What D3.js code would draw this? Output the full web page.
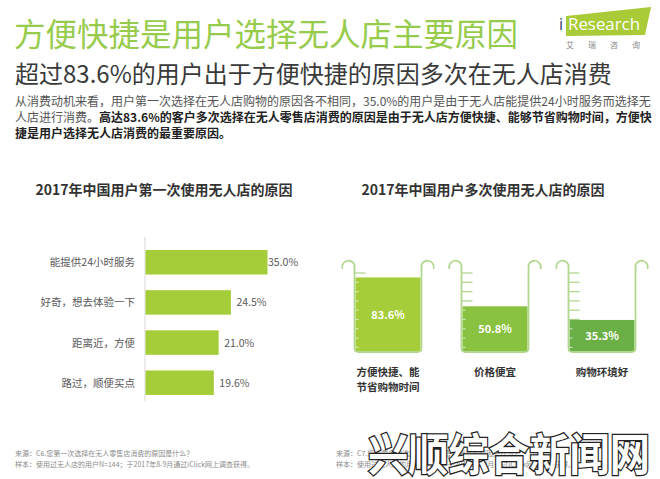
<!DOCTYPE html>
<html>
<head>
<meta charset="utf-8">
<title>方便快捷是用户选择无人店主要原因</title>
<script src="https://d3js.org/d3.v7.min.js"></script>
<style>
  body { margin: 0; background: #fff; }
  text { font-family: "Noto Sans CJK SC", "Noto Sans", sans-serif; }
</style>
</head>
<body>
<div id="viz"></div>
<script>

// ---- data ----
var barCats = ["能提供24小时服务", "好奇，想去体验一下", "距离近，方便", "路过，顺便买点"];
var barValues = [35.0, 24.5, 21.0, 19.6];

var beakerCats = [["方便快捷、能", "节省购物时间"], ["价格便宜"], ["购物环境好"]];
var beakerValues = [83.6, 50.8, 35.3];
var beakerColors = ["#a5cd39", "#88c240", "#6bb046"];

var title = "方便快捷是用户选择无人店主要原因";
var subtitle = "超过83.6%的用户出于方便快捷的原因多次在无人店消费";
var chartTitles = ["2017年中国用户第一次使用无人店的原因", "2017年中国用户多次使用无人店的原因"];
var notesLeft = ["来源：C6.您第一次选择在无人零售店消费的原因是什么？", "样本：使用过无人店的用户N=144；于2017年8-9月通过iClick网上调查获得。"];
var notesRight = ["来源：C7.您愿意多次选择在无人零售店消费的原因是什么？", "样本：使用过无人店的用户N=144；于2017年8-9月通过iClick网上调查获得。"];

var W = 660, H = 479;

var svg = d3.select("#viz").append("svg")
  .attr("width", W).attr("height", H);

// ---- header ----
svg.append("text")
  .attr("x", 14).attr("y", 46)
  .style("font-size", "31.5px").style("fill", "#97cb4c")
  .text(title);

svg.append("text")
  .attr("x", 15).attr("y", 83)
  .style("font-size", "24px").style("fill", "#3a3a3a")
  .text(subtitle);

// logo
var logo = svg.append("g");
logo.append("polygon")
  .attr("points", "566,16 651,7 645,35 566,36")
  .attr("fill", "#a9cb38");
logo.append("text")
  .attr("x", 559).attr("y", 30)
  .style("font-family", "Open Sans, sans-serif")
  .style("font-size", "16px").style("fill", "#1f3a6e")
  .text("i");
logo.append("text")
  .attr("x", 568).attr("y", 30)
  .attr("textLength", 72).attr("lengthAdjust", "spacingAndGlyphs")
  .style("font-family", "Open Sans, sans-serif")
  .style("font-size", "16px").style("fill", "#ffffff")
  .text("Research");
logo.append("text")
  .attr("x", 566).attr("y", 48)
  .style("font-size", "8px").style("fill", "#888")
  .style("letter-spacing", "14px")
  .text("艾瑞咨询");

// paragraph
var para = [
  [["从消费动机来看，用户第一次选择在无人店购物的原因各不相同，35.0%的用户是由于无人店能提供24小时服务而选择无", false]],
  [["人店进行消费。", false], ["高达83.6%的客户多次选择在无人零售店消费的原因是由于无人店方便快捷、能够节省购物时间，方便快", true]],
  [["捷是用户选择无人店消费的最重要原因。", true]]
];
para.forEach(function (line, i) {
  var t = svg.append("text")
    .attr("x", 15).attr("y", 106 + i * 16)
    .style("font-size", "12px");
  line.forEach(function (seg) {
    t.append("tspan")
      .style("font-weight", seg[1] ? "700" : "400")
      .style("fill", seg[1] ? "#222" : "#555")
      .text(seg[0]);
  });
});

// ---- left chart: horizontal bars ----
svg.append("text")
  .attr("x", 164).attr("y", 195)
  .attr("text-anchor", "middle")
  .style("font-size", "14px").style("font-weight", "700").style("fill", "#333")
  .text(chartTitles[0]);

var x = d3.scaleLinear().domain([0, 35]).range([0, 122]);
var y = d3.scaleBand().domain(barCats).range([242, 403]).paddingInner(0.39).paddingOuter(0.2);
var x0 = 145;

svg.append("line")
  .attr("x1", x0).attr("x2", x0)
  .attr("y1", 237).attr("y2", 401)
  .style("stroke", "#d9d9d9").style("stroke-width", 1);

var bars = svg.append("g");
bars.selectAll("rect").data(barCats).enter().append("rect")
  .attr("x", x0 + 0.5)
  .attr("y", function (d) { return y(d); })
  .attr("width", function (d, i) { return x(barValues[i]); })
  .attr("height", y.bandwidth())
  .style("fill", "#a5cd39");

bars.selectAll(".cat").data(barCats).enter().append("text")
  .attr("x", 135)
  .attr("y", function (d) { return y(d) + y.bandwidth() / 2 + 4; })
  .attr("text-anchor", "end")
  .style("font-size", "10.5px").style("fill", "#595959")
  .text(function (d) { return d; });

bars.selectAll(".val").data(barCats).enter().append("text")
  .attr("x", function (d, i) { return x0 + x(barValues[i]) + (i == 0 ? 1 : 6); })
  .attr("y", function (d) { return y(d) + y.bandwidth() / 2 + 4; })
  .style("font-size", "10.5px").style("fill", "#595959")
  .text(function (d, i) { return barValues[i].toFixed(1) + "%"; });

// ---- right chart: beakers ----
svg.append("text")
  .attr("x", 483).attr("y", 195)
  .attr("text-anchor", "middle")
  .style("font-size", "14px").style("font-weight", "700").style("fill", "#333")
  .text(chartTitles[1]);

var centers = d3.scalePoint().domain(d3.range(beakerValues.length)).range([388, 602]);
var lvl = d3.scaleLinear().domain([0, 100]).range([351, 263]);
var bw = 67, topY = 264, botY = 352;
var outline = "#b2d78e";

beakerValues.forEach(function (v, i) {
  var cx = centers(i), L = cx - bw / 2, R = cx + bw / 2;
  var g = svg.append("g");

  // ticks on the left wall
  var ticks = d3.range(273, botY - 3, 9.3);
  g.selectAll(".tk").data(ticks).enter().append("line")
    .attr("x1", L).attr("x2", L + 11)
    .attr("y1", function (d) { return d; }).attr("y2", function (d) { return d; })
    .style("stroke", outline).style("stroke-width", 1.3);

  // liquid
  g.append("rect")
    .attr("x", L + 1).attr("width", bw - 2)
    .attr("y", lvl(v)).attr("height", botY - 1 - lvl(v))
    .style("fill", beakerColors[i]);

  // ticks visible through the liquid
  g.selectAll(".tk2").data(ticks.filter(function (d) { return d > lvl(v) + 3; })).enter().append("line")
    .attr("x1", L).attr("x2", L + 4)
    .attr("y1", function (d) { return d; }).attr("y2", function (d) { return d; })
    .style("stroke", "#fff").style("stroke-opacity", 0.6).style("stroke-width", 1.2);

  // glass
  var p = "M" + (L - 12) + "," + (topY + 5) +
    " A6,6 0 0 1 " + L + "," + (topY + 1) +
    " L" + L + "," + (botY - 4) +
    " Q" + L + "," + botY + " " + (L + 4) + "," + botY +
    " L" + (R - 4) + "," + botY +
    " Q" + R + "," + botY + " " + R + "," + (botY - 4) +
    " L" + R + "," + (topY + 1) +
    " A6,6 0 0 1 " + (R + 12) + "," + (topY + 5);
  g.append("path").attr("d", p)
    .style("fill", "none").style("stroke", outline).style("stroke-width", 1.8);

  g.append("text")
    .attr("x", cx).attr("y", (lvl(v) + botY) / 2 + 4)
    .attr("text-anchor", "middle")
    .style("font-size", "11px").style("font-weight", "700").style("fill", "#fff")
    .text(v.toFixed(1) + "%");

  beakerCats[i].forEach(function (s, j) {
    g.append("text")
      .attr("x", cx).attr("y", 376 + j * 15)
      .attr("text-anchor", "middle")
      .style("font-size", "10.5px").style("font-weight", "700").style("fill", "#333")
      .text(s);
  });
});

// ---- footnotes ----
[notesLeft, notesRight].forEach(function (notes, k) {
  notes.forEach(function (s, j) {
    svg.append("text")
      .attr("x", k == 0 ? 15 : 336).attr("y", 456 + j * 11)
      .style("font-size", "7px").style("fill", "#8a8a8a")
      .text(s);
  });
});

// watermark
svg.append("text")
  .attr("x", 368).attr("y", 471)
  .attr("textLength", 282).attr("lengthAdjust", "spacingAndGlyphs")
  .style("font-size", "44px").style("font-weight", "700")
  .style("fill", "#fff").style("stroke", "#222").style("stroke-width", 2.6)
  .style("paint-order", "stroke")
  .text("兴顺综合新闻网");

</script>
</body>
</html>
